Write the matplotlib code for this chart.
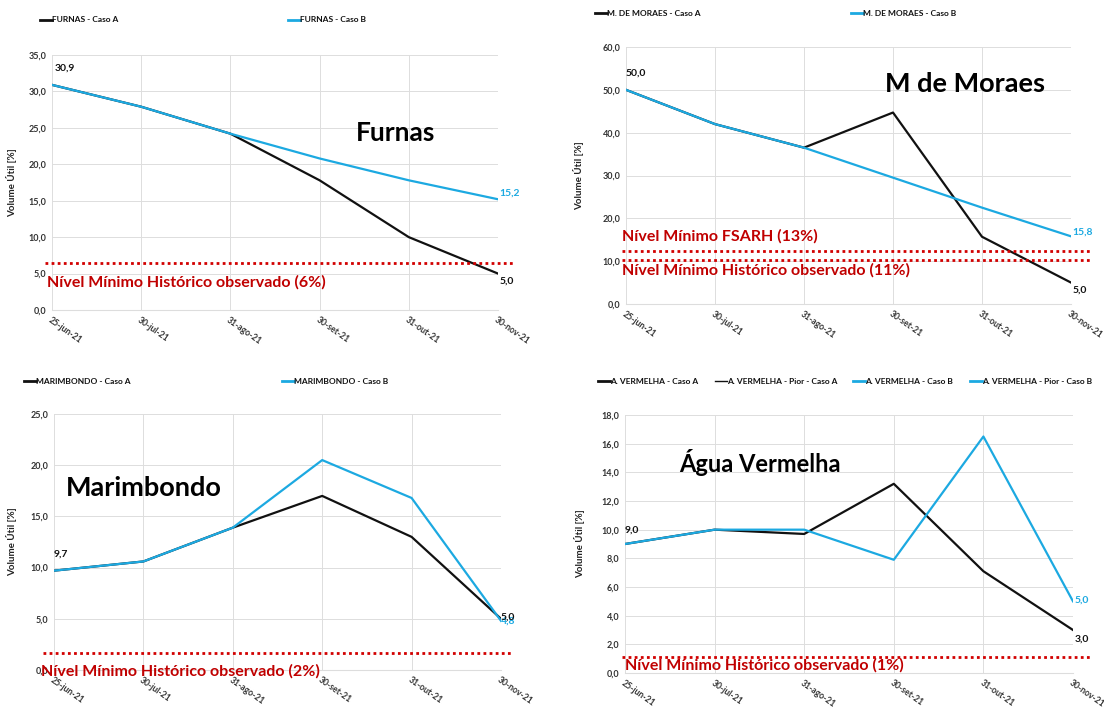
import matplotlib
matplotlib.use("Agg")
import matplotlib.pyplot as plt
from matplotlib.lines import Line2D
from matplotlib.ticker import FuncFormatter, MultipleLocator

plt.rcParams['font.family'] = ['Lato', 'DejaVu Sans']

# ---------------- data ----------------
categories = ['25-jun-21', '30-jul-21', '31-ago-21', '30-set-21', '31-out-21', '30-nov-21']

furnas_a = [30.9, 27.9, 24.2, 17.8, 10.0, 5.0]
furnas_b = [30.9, 27.9, 24.2, 20.8, 17.8, 15.2]
moraes_a = [50.0, 42.0, 36.5, 44.7, 15.7, 5.0]
moraes_b = [50.0, 42.0, 36.5, 29.5, 22.5, 15.8]
marimbondo_a = [9.7, 10.6, 13.9, 17.0, 13.0, 5.0]
marimbondo_b = [9.7, 10.6, 13.9, 20.5, 16.8, 4.8]
vermelha_a = [9.0, 10.0, 9.7, 13.2, 7.1, 3.0]
vermelha_b = [9.0, 10.0, 10.0, 7.9, 16.5, 5.0]

furnas_min = [6.5]
moraes_min = [12.3, 10.2]
marimbondo_min = [1.7]
vermelha_min = [1.1]

BLACK = '#111111'
BLUE = '#1CA9E1'
RED = '#C00000'
REDLINE = '#D20000'
GRID = '#DDDDDD'

W, H = 1104, 709
fig = plt.figure(figsize=(W / 100, H / 100), dpi=100)


def make_ax(l, r, t, b):
    return fig.add_axes([l / W, 1 - b / H, (r - l) / W, (b - t) / H])


def fmt(v, pos=None):
    return f"{v:.1f}".replace('.', ',')


def style(ax, ymax, step, ylab_dx):
    x = list(range(len(categories)))
    ax.set_xlim(0, len(categories) - 1)
    ax.set_ylim(0, ymax)
    ax.yaxis.set_major_locator(MultipleLocator(step))
    ax.yaxis.set_major_formatter(FuncFormatter(fmt))
    ax.set_xticks(x)
    ax.set_xticklabels(categories, rotation=-35, ha='left', va='top',
                       rotation_mode='anchor', fontsize=6.2, fontweight='bold',
                       color='#333333')
    for lab in ax.get_yticklabels():
        lab.set_fontsize(6.5)
        lab.set_fontweight('bold')
        lab.set_color('#333333')
    ax.tick_params(length=0, pad=4)
    ax.tick_params(axis='x', pad=4)
    ax.grid(True, color=GRID, linewidth=0.7)
    ax.set_axisbelow(True)
    for s in ['top', 'right', 'left']:
        ax.spines[s].set_visible(False)
    ax.spines['bottom'].set_color(GRID)
    ax.spines['bottom'].set_linewidth(0.8)
    ax.set_ylabel('Volume Útil [%]', fontsize=7, fontweight='bold', color='#222222')
    ax.yaxis.set_label_coords(ylab_dx, 0.5)
    return x


def red_line(ax, level, x0, x1):
    ax.plot([x0, x1], [level, level], color=REDLINE, linestyle=(0, (1, 1.2)),
            linewidth=2.0, clip_on=False, zorder=4)


def red_text(ax, x, y, s):
    ax.text(x, y, s, color=RED, fontsize=11.5, fontweight='bold', ha='left',
            va='center', zorder=6, clip_on=False)


def legend_entry(x, y, label, color, lw=2.0, length=12):
    fig.add_artist(Line2D([x / W, (x + length) / W], [1 - y / H, 1 - y / H],
                          color=color, linewidth=lw))
    fig.text((x + length) / W, 1 - y / H, label, fontsize=6, fontweight='bold',
             color='#111111', va='center', ha='left')


# ---------------- Furnas ----------------
ax1 = make_ax(52, 498, 55, 310)
x = style(ax1, 35, 5, -35 / 446)
ax1.plot(x, furnas_a, color=BLACK, linewidth=1.6, zorder=3)
ax1.plot(x, furnas_b, color=BLUE, linewidth=1.6, zorder=3)
red_line(ax1, furnas_min[0], -0.08, 5.17)
red_text(ax1, -0.06, 3.85, 'Nível Mínimo Histórico observado (6%)')
ax1.text(3.85, 24.3, 'Furnas', fontsize=19, fontweight='bold', ha='center', va='center', color='black')
ax1.annotate(fmt(furnas_b[0]), (0, furnas_b[0]), xytext=(2, 9), textcoords='offset points',
             fontsize=7.5, fontweight='bold', color=BLACK, ha='left', va='bottom')
ax1.annotate(fmt(furnas_b[-1]), (5, furnas_b[-1]), xytext=(1, 1), textcoords='offset points',
             fontsize=7.5, fontweight='bold', color=BLUE, ha='left', va='bottom', annotation_clip=False)
ax1.annotate(fmt(furnas_a[-1]), (5, furnas_a[-1]), xytext=(1, -2), textcoords='offset points',
             fontsize=7.5, fontweight='bold', color=BLACK, ha='left', va='top', annotation_clip=False)
legend_entry(40, 20, 'FURNAS - Caso A', BLACK)
legend_entry(288, 20, 'FURNAS - Caso B', BLUE)

# ---------------- M de Moraes ----------------
ax2 = make_ax(626, 1071, 47, 304)
x = style(ax2, 60, 10, -42 / 445)
ax2.plot(x, moraes_a, color=BLACK, linewidth=1.6, zorder=3)
ax2.plot(x, moraes_b, color=BLUE, linewidth=1.6, zorder=3)
red_line(ax2, moraes_min[0], -0.04, 5.23)
red_line(ax2, moraes_min[1], -0.04, 5.23)
red_text(ax2, -0.04, 15.7, 'Nível Mínimo FSARH (13%)')
red_text(ax2, -0.04, 7.9, 'Nível Mínimo Histórico observado (11%)')
ax2.text(3.81, 51.3, 'M de Moraes', fontsize=19.5, fontweight='bold', ha='center', va='center', color='black')
ax2.annotate(fmt(moraes_b[0]), (0, moraes_b[0]), xytext=(0, 9), textcoords='offset points',
             fontsize=7.5, fontweight='bold', color=BLACK, ha='left', va='bottom')
ax2.annotate(fmt(moraes_b[-1]), (5, moraes_b[-1]), xytext=(1, 0), textcoords='offset points',
             fontsize=7.5, fontweight='bold', color=BLUE, ha='left', va='bottom', annotation_clip=False)
ax2.annotate(fmt(moraes_a[-1]), (5, moraes_a[-1]), xytext=(1, -2), textcoords='offset points',
             fontsize=7.5, fontweight='bold', color=BLACK, ha='left', va='top', annotation_clip=False)
legend_entry(595, 13, 'M. DE MORAES - Caso A', BLACK)
legend_entry(851, 13, 'M. DE MORAES - Caso B', BLUE)

# ---------------- Marimbondo ----------------
ax3 = make_ax(54, 501, 414, 670)
x = style(ax3, 25, 5, -37 / 447)
ax3.plot(x, marimbondo_a, color=BLACK, linewidth=1.6, zorder=3)
ax3.plot(x, marimbondo_b, color=BLUE, linewidth=1.6, zorder=3)
red_line(ax3, marimbondo_min[0], -0.12, 5.11)
red_text(ax3, -0.15, -0.1, 'Nível Mínimo Histórico observado (2%)')
ax3.text(1.0, 17.8, 'Marimbondo', fontsize=19.5, fontweight='bold', ha='center', va='center', color='black')
ax3.annotate(fmt(marimbondo_b[0]), (0, marimbondo_b[0]), xytext=(0, 9), textcoords='offset points',
             fontsize=7.5, fontweight='bold', color=BLACK, ha='left', va='bottom')
ax3.annotate(fmt(marimbondo_b[-1]), (5, marimbondo_b[-1]), xytext=(0, 0), textcoords='offset points',
             fontsize=7.5, fontweight='bold', color=BLUE, ha='left', va='center', annotation_clip=False)
ax3.annotate(fmt(marimbondo_a[-1]), (5, marimbondo_a[-1]), xytext=(0, 1), textcoords='offset points',
             fontsize=7.5, fontweight='bold', color=BLACK, ha='left', va='center', annotation_clip=False)
legend_entry(24, 381, 'MARIMBONDO - Caso A', BLACK)
legend_entry(282, 381, 'MARIMBONDO - Caso B', BLUE)

# ---------------- Água Vermelha ----------------
ax4 = make_ax(625, 1073, 415, 673)
x = style(ax4, 18, 2, -40 / 448)
ax4.plot(x, vermelha_a, color=BLACK, linewidth=1.6, zorder=3)
ax4.plot(x, vermelha_b, color=BLUE, linewidth=1.6, zorder=3)
red_line(ax4, vermelha_min[0], -0.03, 5.2)
red_text(ax4, 0.0, 0.5, 'Nível Mínimo Histórico observado (1%)')
ax4.text(1.5, 14.7, 'Água Vermelha', fontsize=17, fontweight='bold', ha='center', va='center', color='black')
ax4.annotate(fmt(vermelha_b[0]), (0, vermelha_b[0]), xytext=(0, 7), textcoords='offset points',
             fontsize=7.5, fontweight='bold', color=BLACK, ha='left', va='bottom')
ax4.annotate(fmt(vermelha_b[-1]), (5, vermelha_b[-1]), xytext=(1, 1), textcoords='offset points',
             fontsize=7.5, fontweight='bold', color=BLUE, ha='left', va='center', annotation_clip=False)
ax4.annotate(fmt(vermelha_a[-1]), (5, vermelha_a[-1]), xytext=(1, -3), textcoords='offset points',
             fontsize=7.5, fontweight='bold', color=BLACK, ha='left', va='top', annotation_clip=False)
legend_entry(598, 381, 'A. VERMELHA - Caso A', BLACK)
legend_entry(715, 381, 'A. VERMELHA - Pior - Caso A', BLACK, lw=1.0)
legend_entry(853, 381, 'A. VERMELHA - Caso B', BLUE)
legend_entry(970, 381, 'A. VERMELHA - Pior - Caso B', BLUE)

fig.savefig('out.png', dpi=100, facecolor='white')
